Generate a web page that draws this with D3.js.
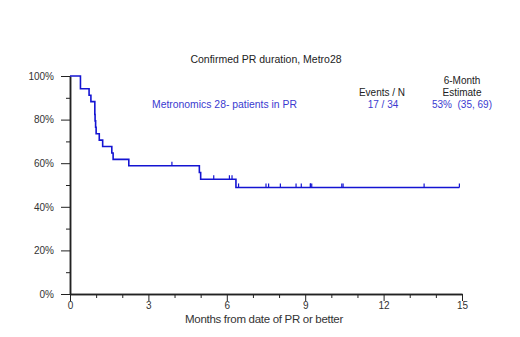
<!DOCTYPE html>
<html>
<head>
<meta charset="UTF-8">
<title>Confirmed PR duration, Metro28</title>
<style>
  body { margin: 0; background: #fff; }
  text { font-family: "Liberation Sans", Arial, sans-serif; }
  .axis path, .axis line { stroke: #222; }
  .axis text { fill: #333; font-size: 10px; }
</style>
</head>
<body>
<script src="https://cdnjs.cloudflare.com/ajax/libs/d3/7.8.5/d3.min.js"></script>
<script>
// event (progression) times, months
var eventTimes = [0.4, 0.4, 0.73, 0.8, 0.95, 0.95, 0.96, 0.98, 1.0, 1.12, 1.25, 1.6, 1.65, 2.25, 4.95, 5.0, 6.35];
// censored times, months
var censorTimes = [3.9, 5.5, 6.1, 6.2, 6.45, 7.5, 7.6, 8.05, 8.65, 8.85, 9.2, 9.2, 9.25, 10.4, 10.45, 13.55, 14.9];
var xMajor = [0, 3, 6, 9, 12, 15];
var xMinor = [1, 2, 4, 5, 7, 8, 10, 11, 13, 14];
var yMajor = [0, 0.2, 0.4, 0.6, 0.8, 1];
var yMinor = [0.1, 0.3, 0.5, 0.7, 0.9];

var W = 520, H = 337;
var x = d3.scaleLinear().domain([0, 15]).range([70, 462]);
var y = d3.scaleLinear().domain([0, 1]).range([294, 76]);

var svg = d3.select('body').append('svg').attr('width', W).attr('height', H);

// kaplan-meier
var obs = eventTimes.map(function (t) { return { t: t, ev: 1 }; })
  .concat(censorTimes.map(function (t) { return { t: t, ev: 0 }; }))
  .sort(function (a, b) { return a.t - b.t || b.ev - a.ev; });
var atRisk = obs.length, s = 1;
var steps = [{ t: 0, s: 1 }], cens = [];
obs.forEach(function (o) {
  if (o.ev) { s = s * (atRisk - 1) / atRisk; steps.push({ t: o.t, s: s }); }
  else cens.push({ t: o.t, s: s });
  atRisk--;
});
steps.push({ t: d3.max(obs, function (o) { return o.t; }), s: s });

// axes
svg.append('g').attr('class', 'axis')
  .attr('transform', 'translate(70,0)')
  .call(d3.axisLeft(y).tickValues(yMinor).tickSize(4).tickSizeOuter(0).tickFormat(''));
svg.append('g').attr('class', 'axis')
  .attr('transform', 'translate(70,0)')
  .call(d3.axisLeft(y).tickValues(yMajor).tickSize(9).tickSizeOuter(0).tickPadding(7).tickFormat(d3.format('.0%')));
svg.append('g').attr('class', 'axis')
  .attr('transform', 'translate(0,294)')
  .call(d3.axisBottom(x).tickValues(xMinor).tickSize(4).tickSizeOuter(0).tickFormat(''));
svg.append('g').attr('class', 'axis')
  .attr('transform', 'translate(0,294)')
  .call(d3.axisBottom(x).tickValues(xMajor).tickSize(7).tickSizeOuter(0).tickPadding(1).tickFormat(d3.format('d')));
svg.selectAll('.axis path').attr('stroke-width', 1.5);

// curve
var line = d3.line()
  .x(function (d) { return x(d.t); })
  .y(function (d) { return y(d.s); })
  .curve(d3.curveStepAfter);
svg.append('path')
  .datum(steps)
  .attr('d', line)
  .attr('fill', 'none')
  .attr('stroke', '#1414d2')
  .attr('stroke-width', 1.6);

svg.selectAll('.cens')
  .data(cens)
  .enter()
  .append('line')
  .attr('class', 'cens')
  .attr('x1', function (d) { return x(d.t); })
  .attr('x2', function (d) { return x(d.t); })
  .attr('y1', function (d) { return y(d.s); })
  .attr('y2', function (d) { return y(d.s) - 4; })
  .attr('stroke', '#1414d2')
  .attr('stroke-width', 1.2);

// texts
svg.append('text').attr('x', 266).attr('y', 63).attr('text-anchor', 'middle')
  .style('font-size', '10.5px').attr('fill', '#222').text('Confirmed PR duration, Metro28');
svg.append('text').attr('x', 264).attr('y', 323).attr('text-anchor', 'middle')
  .style('font-size', '11.5px').style('letter-spacing', '-0.3px').attr('fill', '#333')
  .text('Months from date of PR or better');

svg.append('text').attr('x', 152).attr('y', 108)
  .style('font-size', '10.4px').attr('fill', '#3a3ad0').text('Metronomics 28- patients in PR');
svg.append('text').attr('x', 382).attr('y', 96).attr('text-anchor', 'middle')
  .style('font-size', '10px').attr('fill', '#222').text('Events / N');
svg.append('text').attr('x', 383).attr('y', 108).attr('text-anchor', 'middle')
  .style('font-size', '10px').attr('fill', '#3a3ad0').text('17 / 34');
svg.append('text').attr('x', 462).attr('y', 84).attr('text-anchor', 'middle')
  .style('font-size', '10px').attr('fill', '#222').text('6-Month');
svg.append('text').attr('x', 462).attr('y', 96).attr('text-anchor', 'middle')
  .style('font-size', '10px').attr('fill', '#222').text('Estimate');
svg.append('text').attr('x', 462).attr('y', 108).attr('text-anchor', 'middle')
  .style('font-size', '10px').attr('fill', '#3a3ad0').attr('xml:space', 'preserve').text('53%  (35, 69)');
</script>
</body>
</html>
